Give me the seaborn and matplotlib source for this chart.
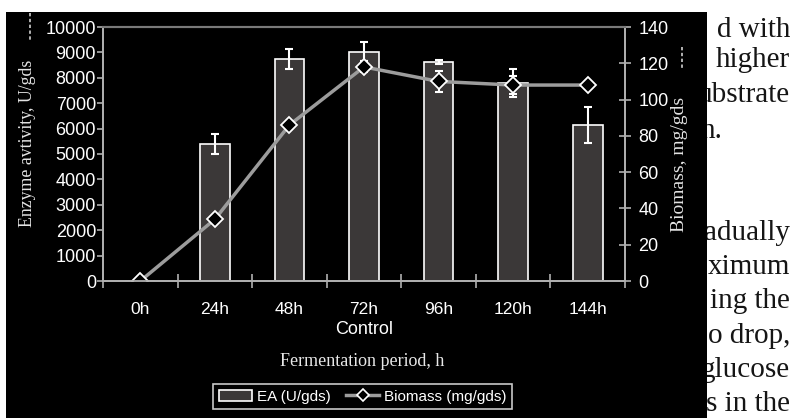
import numpy as np
import pandas as pd
import seaborn as sns
import matplotlib
matplotlib.use('Agg')
import matplotlib.pyplot as plt
from matplotlib.patches import Rectangle, Patch
from matplotlib.lines import Line2D

# data
periods = ['0h', '24h', '48h', '72h', '96h', '120h', '144h']
ea = [0, 5400, 8740, 9030, 8620, 7800, 6150]          # U/gds
ea_err = [0, 390, 380, 370, 80, 560, 710]
biomass = [0, 34, 86, 118, 110, 108, 108]             # mg/gds
biomass_err = [0, 1.5, 2, 3, 6, 5, 0]
ea_ticks = list(range(0, 10001, 1000))
bio_ticks = list(range(0, 141, 20))
# text fragments of the page that sits to the right of the chart
page_lines = ['d with', 'higher', 'ubstrate', 'n.', 'adually', 'ximum',
              'ing the', 'o drop,', 'glucose', 's in the']
page_base = [37, 67, 102, 138, 240, 274, 308, 343, 377, 411]
page_right = [790, 790, 790, 722, 790, 790, 790, 790, 790, 790]

plt.rcParams['font.family'] = ['Liberation Sans', 'DejaVu Sans']
serif = ['Liberation Serif', 'DejaVu Serif']

W, H = 794, 418
fx = lambda x: x / W
fy = lambda y: 1 - y / H

bar_fill = '#3b3838'
line_col = '#9c9c9c'
axis_col = '#b0b0b0'

fig = plt.figure(figsize=(W / 100, H / 100), dpi=100)
fig.patch.set_facecolor('white')

# black panel of the scanned figure
fig.add_artist(Rectangle((fx(6), 0), fx(707) - fx(6), fy(12), transform=fig.transFigure,
                         facecolor='black', edgecolor='none', zorder=-1))
for txt, b, r in zip(page_lines, page_base, page_right):
    fig.text(fx(r), fy(b), txt, ha='right', va='baseline', family=serif,
             fontsize=21, color='#151515', zorder=-2)

ax = fig.add_axes([fx(103), fy(281), fx(625) - fx(103), (281 - 27) / H])
ax.set_facecolor('none')

df = pd.DataFrame({'period': periods, 'ea': ea})
sns.barplot(data=df, x='period', y='ea', ax=ax, color=bar_fill, saturation=1,
            edgecolor='white', linewidth=1.2, width=0.4, errorbar=None)
pos = np.arange(len(periods))
ax.errorbar(pos, ea, yerr=ea_err, fmt='none', ecolor='white', elinewidth=1.5,
            capsize=3, capthick=1.5, zorder=3)

ax.set_xlim(-0.5, len(periods) - 0.5)
ax.set_ylim(0, 10000)
ax.set_yticks(ea_ticks)
ax.set_xticks(pos)
ax.set_xticklabels(periods)
ax.set_xticks(np.arange(-0.5, len(periods), 1), minor=True)
ax.set_ylabel('')
ax.set_xlabel('Control', fontsize=13, color='white', labelpad=3)
ax.tick_params(axis='x', which='major', length=0, pad=15, labelsize=12.5, labelcolor='white')
ax.tick_params(axis='x', which='minor', direction='inout', length=10, width=1.2, color=axis_col)
ax.tick_params(axis='y', direction='out', length=4, width=1.2, pad=1, labelsize=13,
               color=axis_col, labelcolor='white')

ax2 = ax.twinx()
ax2.errorbar(pos, biomass, yerr=biomass_err, fmt='none', ecolor='white', elinewidth=1.5,
             capsize=3, capthick=1.5, zorder=1.5)
sns.lineplot(x=pos, y=biomass, ax=ax2, color=line_col, lw=2.5, marker='D', markersize=8,
             markerfacecolor='black', markeredgecolor='white', markeredgewidth=1.3,
             legend=False, zorder=2)
ax2.set_ylim(0, 140)
ax2.set_yticks(bio_ticks)
ax2.set_ylabel('')
ax2.tick_params(axis='y', direction='inout', length=8, width=1.2, pad=5.5, labelsize=13,
                color=axis_col, labelcolor='white')

for a in (ax, ax2):
    for s in ('left', 'right', 'bottom'):
        a.spines[s].set_color(axis_col)
        a.spines[s].set_linewidth(1.3)
    a.spines['top'].set_color('#7a7a7a')
    a.spines['top'].set_linewidth(1.5)

fig.text(fx(28), fy(143), 'Enzyme avtivity, U/gds', rotation=90, ha='center', va='center',
         family=serif, fontsize=12.8, color='#e4e4e4')
fig.text(fx(680), fy(164), 'Biomass, mg/gds', rotation=90, ha='center', va='center',
         family=serif, fontsize=14, color='#e4e4e4')
fig.text(fx(362), fy(362), 'Fermentation period, h', ha='center', va='center',
         family=serif, fontsize=13, color='#e8e8e8')

# little dashed marks left over in the scan
fig.add_artist(Line2D([fx(30), fx(30)], [fy(13), fy(40)], transform=fig.transFigure,
                      color='#cfcfcf', lw=1.2, ls=(0, (2, 1.5))))
fig.add_artist(Line2D([fx(682), fx(682)], [fy(47), fy(68)], transform=fig.transFigure,
                      color='#cfcfcf', lw=1.2, ls=(0, (2, 1.5))))

handles = [Patch(facecolor=bar_fill, edgecolor='white', linewidth=1.2),
           Line2D([], [], color=line_col, lw=2.5, marker='D', markersize=6,
                  markerfacecolor='black', markeredgecolor='white', markeredgewidth=1.2)]
leg = fig.legend(handles, ['EA (U/gds)', 'Biomass (mg/gds)'], loc='center',
                 bbox_to_anchor=(fx(362.5), fy(396.5)), ncol=2, frameon=True, fancybox=False,
                 edgecolor='#c8c8c8', facecolor='black', framealpha=1, fontsize=11,
                 labelcolor='white', handlelength=2.2, handletextpad=0.3,
                 columnspacing=1.0, borderpad=0.35, borderaxespad=0)
leg.get_frame().set_linewidth(1.2)

fig.savefig('out.png', dpi=100, facecolor=fig.get_facecolor())
